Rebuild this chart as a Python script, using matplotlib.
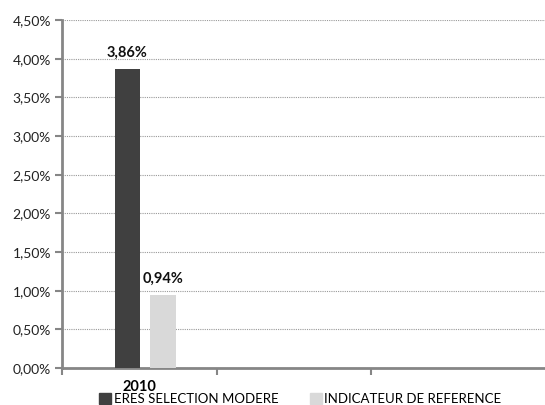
import numpy as np
import matplotlib.pyplot as plt
from matplotlib.ticker import FuncFormatter, FixedLocator

plt.rcParams['font.family'] = ['Lato', 'DejaVu Sans']

categories = ["2010", "", ""]
series_names = ["ERES SELECTION MODERE", "INDICATEUR DE REFERENCE"]
fund = [3.86]
benchmark = [0.94]
y_ticks = np.arange(0, 4.51, 0.5)

colors = ["#404040", "#D9D9D9"]

fig = plt.figure(figsize=(5.45, 4.05), dpi=100)
ax = fig.add_axes([62 / 545, 37 / 405, 1 - 62 / 545, 348 / 405])

x = np.arange(len(fund)) + 0.5
b1 = ax.bar(x - 0.076, fund, width=0.165, color=colors[0], zorder=3)
b2 = ax.bar(x + 0.154, benchmark, width=0.165, color=colors[1], zorder=3)

for bars, vals in [(b1, fund), (b2, benchmark)]:
    for r, v in zip(bars, vals):
        ax.annotate(f"{v:.2f}%".replace(".", ","), (r.get_x() + r.get_width() / 2, v),
                    xytext=(0, 7), textcoords="offset points", ha="center", va="bottom",
                    fontsize=10.5, fontweight="bold", color="#111111")

ax.set_ylim(0, 4.5)
ax.set_xlim(0, 483 / 154.5)
ax.set_yticks(y_ticks)
ax.yaxis.set_major_formatter(FuncFormatter(lambda v, p: f"{v:.2f}%".replace(".", ",")))
ax.xaxis.set_major_locator(FixedLocator([0, 1, 2]))
ax.set_xticklabels([])
ax.set_xticks(x, [categories[0]], minor=True)
ax.tick_params(axis="x", which="minor", length=0, pad=8.5, labelsize=10.5)
for t in ax.get_xticklabels(minor=True):
    t.set_fontweight("bold")
ax.tick_params(axis="x", which="major", length=5, width=1.5, color="#868686", direction="out")
ax.tick_params(axis="y", length=5, width=1.5, color="#868686", labelsize=10, pad=3, labelcolor="#222222")

ax.grid(axis="y", linestyle=(0, (1, 1)), color="#999999", linewidth=0.8, zorder=0)
for s in ["top", "right"]:
    ax.spines[s].set_visible(False)
for s in ["left", "bottom"]:
    ax.spines[s].set_color("#868686")
    ax.spines[s].set_linewidth(2)

handles = [plt.Rectangle((0, 0), 1, 1, color=c) for c in colors]
fig.legend(handles, series_names, loc="upper left", bbox_to_anchor=(99 / 545, 12 / 405),
           ncol=2, frameon=False, fontsize=9.5, handlelength=0.9, handleheight=0.9,
           handletextpad=0.2, columnspacing=2.4, borderaxespad=0, borderpad=0)

fig.savefig("out.png", dpi=100)
